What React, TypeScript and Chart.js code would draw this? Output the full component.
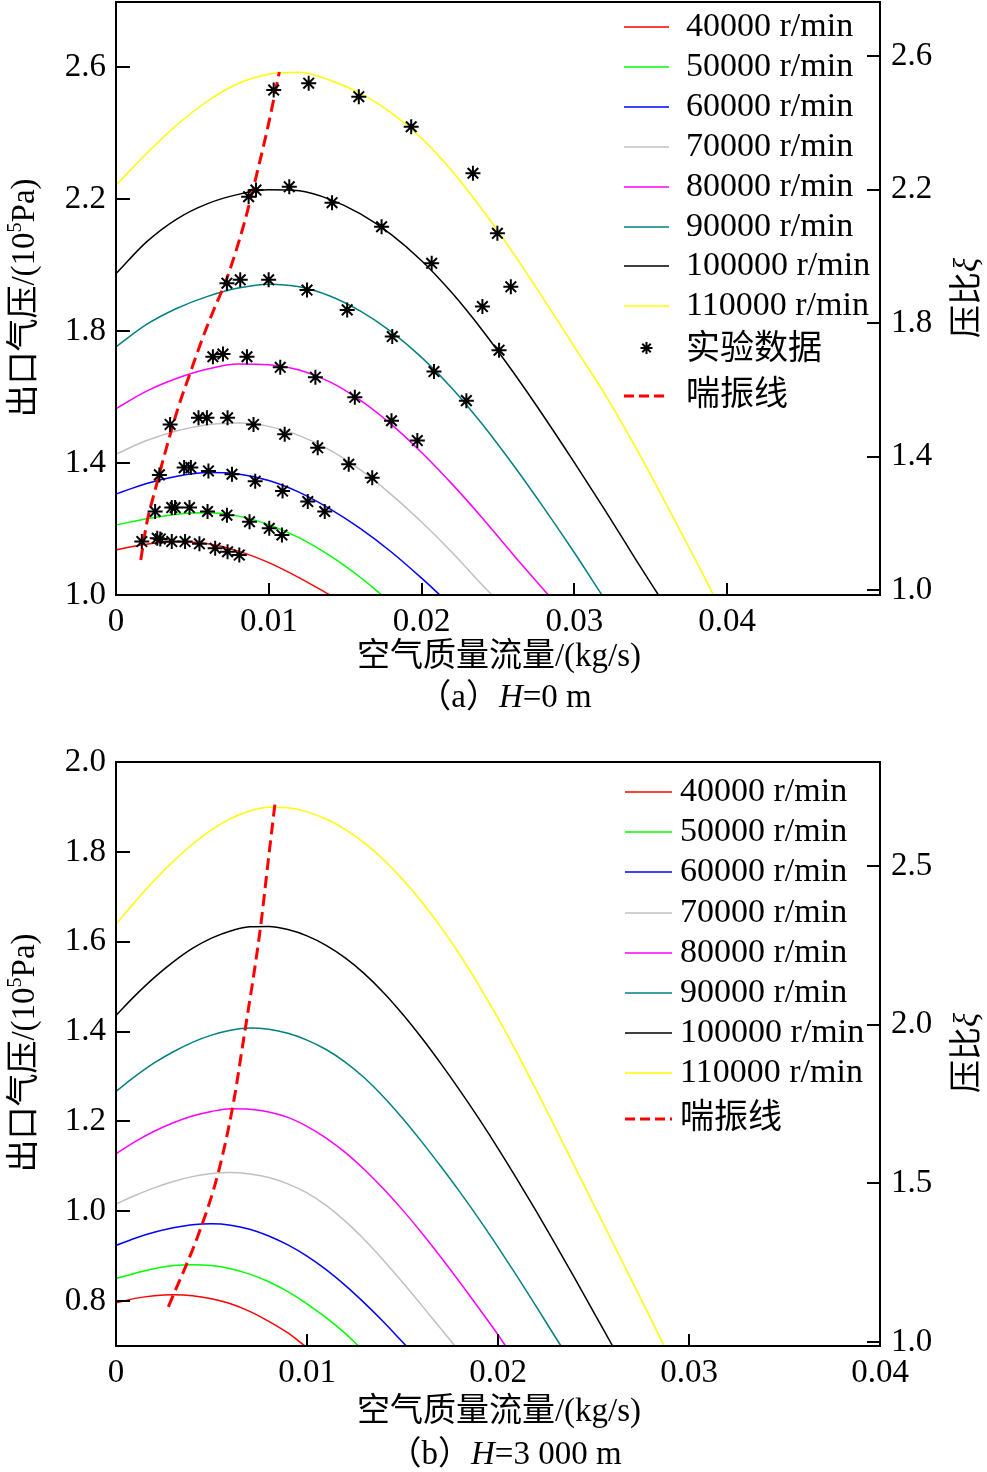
import React, { useEffect, useRef } from 'react';
import { Chart, registerables } from 'chart.js';
Chart.register(...registerables);

const FONT = '"Liberation Serif", "Times New Roman", "Noto Sans CJK SC", serif';
const FS = 33;
const LFS = 34;

type P = [number, number];

const speedLabels = ['40000 r/min', '50000 r/min', '60000 r/min', '70000 r/min', '80000 r/min', '90000 r/min', '100000 r/min', '110000 r/min'];
const speedColors = ['#ff0000', '#00ff00', '#0000ff', '#c0c0c0', '#ff00ff', '#008080', '#000000', '#ffff00'];
const expLabel = '实验数据';
const surgeLabel = '喘振线';

// ---------- (a) H = 0 m ----------
const a40: P[] = [[0, 1.137], [0.002, 1.154], [0.004, 1.161], [0.006, 1.155], [0.008, 1.133], [0.010, 1.098], [0.012, 1.052], [0.014, 1.0]];
const a50: P[] = [[0, 1.212], [0.002, 1.231], [0.004, 1.245], [0.006, 1.249], [0.008, 1.239], [0.010, 1.213], [0.012, 1.173], [0.014, 1.119], [0.016, 1.053], [0.0174, 1.0]];
const a60: P[] = [[0, 1.306], [0.002, 1.338], [0.004, 1.36], [0.006, 1.371], [0.008, 1.367], [0.010, 1.347], [0.012, 1.311], [0.014, 1.261], [0.016, 1.201], [0.018, 1.131], [0.020, 1.051], [0.0212, 1.0]];
const a70: P[] = [[0, 1.427], [0.002, 1.468], [0.004, 1.498], [0.006, 1.516], [0.008, 1.521], [0.010, 1.511], [0.012, 1.483], [0.014, 1.439], [0.016, 1.379], [0.018, 1.305], [0.020, 1.221], [0.022, 1.129], [0.024, 1.029], [0.0246, 1.0]];
const a80: P[] = [[0, 1.565], [0.002, 1.618], [0.004, 1.657], [0.006, 1.685], [0.008, 1.70], [0.010, 1.698], [0.012, 1.682], [0.014, 1.646], [0.016, 1.59], [0.018, 1.518], [0.020, 1.432], [0.022, 1.336], [0.024, 1.232], [0.026, 1.122], [0.0283, 1.0]];
const a90: P[] = [[0, 1.752], [0.002, 1.82], [0.004, 1.869], [0.006, 1.905], [0.008, 1.93], [0.010, 1.942], [0.012, 1.934], [0.014, 1.906], [0.016, 1.86], [0.018, 1.798], [0.020, 1.72], [0.022, 1.626], [0.024, 1.516], [0.026, 1.394], [0.028, 1.264], [0.030, 1.128], [0.0318, 1.0]];
const a100: P[] = [[0, 1.974], [0.002, 2.07], [0.004, 2.14], [0.006, 2.186], [0.008, 2.214], [0.010, 2.228], [0.012, 2.225], [0.014, 2.199], [0.016, 2.155], [0.018, 2.093], [0.020, 2.013], [0.022, 1.915], [0.024, 1.801], [0.026, 1.675], [0.028, 1.541], [0.030, 1.401], [0.032, 1.257], [0.034, 1.109], [0.0355, 1.0]];
const a110: P[] = [[0, 2.242], [0.002, 2.338], [0.004, 2.425], [0.006, 2.497], [0.008, 2.55], [0.010, 2.578], [0.012, 2.584], [0.014, 2.56], [0.016, 2.52], [0.018, 2.462], [0.020, 2.384], [0.022, 2.284], [0.024, 2.166], [0.026, 2.036], [0.028, 1.896], [0.030, 1.752], [0.032, 1.608], [0.034, 1.448], [0.036, 1.276], [0.038, 1.10], [0.0391, 1.0]];

const expA40: P[] = [[0.00169, 1.162], [0.0027, 1.172], [0.0029, 1.17], [0.00365, 1.162], [0.00452, 1.162], [0.00546, 1.155], [0.00649, 1.142], [0.0073, 1.131], [0.00807, 1.121]];
const expA50: P[] = [[0.00256, 1.253], [0.00365, 1.265], [0.00387, 1.265], [0.00481, 1.265], [0.00599, 1.253], [0.00726, 1.242], [0.00874, 1.222], [0.01003, 1.202], [0.01086, 1.182]];
const expA60: P[] = [[0.00284, 1.364], [0.00446, 1.386], [0.0049, 1.386], [0.00605, 1.376], [0.00759, 1.366], [0.00911, 1.345], [0.0109, 1.315], [0.01255, 1.283], [0.01366, 1.253]];
const expA70: P[] = [[0.00354, 1.517], [0.0054, 1.537], [0.00595, 1.537], [0.0073, 1.537], [0.009, 1.517], [0.01104, 1.487], [0.0132, 1.446], [0.01523, 1.396], [0.01677, 1.355]];
const expA80: P[] = [[0.00634, 1.722], [0.007, 1.73], [0.00857, 1.722], [0.01075, 1.69], [0.01305, 1.66], [0.01563, 1.599], [0.01803, 1.528], [0.01972, 1.468]];
const expA90: P[] = [[0.00726, 1.945], [0.00813, 1.955], [0.00999, 1.955], [0.0125, 1.924], [0.01513, 1.864], [0.01808, 1.783], [0.02081, 1.677], [0.02293, 1.589]];
const expA100: P[] = [[0.00868, 2.207], [0.00916, 2.227], [0.01134, 2.237], [0.01414, 2.189], [0.01738, 2.116], [0.02066, 2.005], [0.02398, 1.874], [0.02507, 1.742]];
const expA110: P[] = [[0.01032, 2.53], [0.01261, 2.551], [0.01589, 2.51], [0.01932, 2.419], [0.02336, 2.278], [0.02496, 2.096], [0.02584, 1.934]];

const surgeA: P[] = [[0.00162, 1.106], [0.00201, 1.217], [0.00256, 1.318], [0.00332, 1.449], [0.00409, 1.571], [0.00485, 1.672], [0.00562, 1.773], [0.00636, 1.86], [0.00726, 1.96], [0.00835, 2.12], [0.00933, 2.298], [0.00999, 2.429], [0.01069, 2.585]];

const xTicksA = [0, 0.01, 0.02, 0.03, 0.04];
const yTicksA = [1.0, 1.4, 1.8, 2.2, 2.6];
const y2TicksA = [1.0, 1.4, 1.8, 2.2, 2.6];

// ---------- (b) H = 3000 m ----------
const b40: P[] = [[0, 0.796], [0.001, 0.806], [0.002, 0.812], [0.003, 0.814], [0.004, 0.812], [0.005, 0.805], [0.006, 0.794], [0.007, 0.777], [0.008, 0.755], [0.009, 0.729], [0.0099, 0.70]];
const b50: P[] = [[0, 0.85], [0.001, 0.862], [0.002, 0.872], [0.003, 0.879], [0.004, 0.881], [0.005, 0.879], [0.006, 0.872], [0.007, 0.86], [0.008, 0.843], [0.009, 0.821], [0.010, 0.794], [0.011, 0.763], [0.012, 0.728], [0.0127, 0.70]];
const b60: P[] = [[0, 0.924], [0.001, 0.94], [0.002, 0.953], [0.003, 0.963], [0.004, 0.97], [0.005, 0.972], [0.006, 0.969], [0.007, 0.96], [0.008, 0.945], [0.009, 0.925], [0.010, 0.90], [0.011, 0.87], [0.012, 0.835], [0.013, 0.796], [0.014, 0.754], [0.015, 0.709], [0.0152, 0.70]];
const b70: P[] = [[0, 1.016], [0.001, 1.035], [0.002, 1.052], [0.003, 1.066], [0.004, 1.077], [0.005, 1.084], [0.006, 1.086], [0.007, 1.083], [0.008, 1.075], [0.009, 1.061], [0.010, 1.041], [0.011, 1.013], [0.012, 0.978], [0.013, 0.937], [0.014, 0.891], [0.015, 0.842], [0.016, 0.791], [0.017, 0.739], [0.01775, 0.70]];
const b80: P[] = [[0, 1.128], [0.001, 1.155], [0.002, 1.178], [0.003, 1.197], [0.004, 1.212], [0.005, 1.222], [0.006, 1.228], [0.007, 1.227], [0.008, 1.221], [0.009, 1.209], [0.010, 1.189], [0.011, 1.163], [0.012, 1.131], [0.013, 1.093], [0.014, 1.05], [0.015, 1.003], [0.016, 0.952], [0.017, 0.898], [0.018, 0.842], [0.019, 0.784], [0.020, 0.725], [0.0204, 0.70]];
const b90: P[] = [[0, 1.267], [0.001, 1.30], [0.002, 1.33], [0.003, 1.355], [0.004, 1.376], [0.005, 1.392], [0.006, 1.403], [0.007, 1.408], [0.008, 1.405], [0.009, 1.396], [0.010, 1.381], [0.011, 1.36], [0.012, 1.332], [0.013, 1.297], [0.014, 1.255], [0.015, 1.207], [0.016, 1.155], [0.017, 1.10], [0.018, 1.043], [0.019, 0.983], [0.020, 0.92], [0.021, 0.855], [0.022, 0.788], [0.023, 0.72], [0.0233, 0.70]];
const b100: P[] = [[0, 1.436], [0.001, 1.48], [0.002, 1.52], [0.003, 1.555], [0.004, 1.585], [0.005, 1.608], [0.006, 1.624], [0.007, 1.633], [0.008, 1.634], [0.009, 1.627], [0.010, 1.613], [0.011, 1.592], [0.012, 1.564], [0.013, 1.529], [0.014, 1.487], [0.015, 1.439], [0.016, 1.386], [0.017, 1.329], [0.018, 1.269], [0.019, 1.206], [0.020, 1.14], [0.021, 1.071], [0.022, 1.0], [0.023, 0.927], [0.024, 0.852], [0.025, 0.776], [0.026, 0.70]];
const b110: P[] = [[0, 1.639], [0.001, 1.689], [0.002, 1.736], [0.003, 1.779], [0.004, 1.817], [0.005, 1.849], [0.006, 1.874], [0.007, 1.891], [0.008, 1.899], [0.009, 1.898], [0.010, 1.889], [0.011, 1.873], [0.012, 1.85], [0.013, 1.82], [0.014, 1.783], [0.015, 1.739], [0.016, 1.689], [0.017, 1.633], [0.018, 1.571], [0.019, 1.503], [0.020, 1.43], [0.021, 1.352], [0.022, 1.270], [0.023, 1.186], [0.024, 1.101], [0.025, 1.016], [0.026, 0.931], [0.027, 0.846], [0.028, 0.761], [0.0287, 0.70]];

const surgeB: P[] = [[0.00274, 0.787], [0.0044, 0.958], [0.00536, 1.087], [0.00614, 1.239], [0.00663, 1.369], [0.00754, 1.624], [0.00797, 1.78], [0.00832, 1.906]];

const xTicksB = [0, 0.01, 0.02, 0.03, 0.04];
const yTicksB = [0.8, 1.0, 1.2, 1.4, 1.6, 1.8, 2.0];
const y2TicksB = [1.0, 1.5, 2.0, 2.5];

type LegendRow = { kind: 'line' | 'star' | 'dash'; color: string; label: string; y: number };

type Spec = {
  height: number;
  padTop: number;
  xAxisH: number;
  xMax: number;
  yMin: number; yMax: number;
  y2Min: number; y2Max: number;
  xTicks: number[]; yTicks: number[]; y2Ticks: number[];
  curves: P[][];
  exp: P[] | null;
  surge: P[];
  legendRows: LegendRow[];
  legX0: number; legX1: number; legTX: number;
  titleCY: number;
  xTitleY: number;
  captionY: number;
  capPrefix: string; capSuffix: string;
};

const rowsA: LegendRow[] = [
  ...speedLabels.map((l, i) => ({ kind: 'line' as const, color: speedColors[i], label: l, y: [27, 67, 107, 147, 187, 227, 266, 306][i] })),
  { kind: 'star', color: '#000', label: expLabel, y: 350 },
  { kind: 'dash', color: '#ff0000', label: surgeLabel, y: 396 },
];
const rowsB: LegendRow[] = [
  ...speedLabels.map((l, i) => ({ kind: 'line' as const, color: speedColors[i], label: l, y: [57, 97, 137, 178, 218, 258, 298, 338][i] })),
  { kind: 'dash', color: '#ff0000', label: surgeLabel, y: 384 },
];

const specA: Spec = {
  height: 735, padTop: 2, xAxisH: 140, xMax: 0.05,
  yMin: 1.0, yMax: 2.797, y2Min: 0.985, y2Max: 2.762,
  xTicks: xTicksA, yTicks: yTicksA, y2Ticks: y2TicksA,
  curves: [a40, a50, a60, a70, a80, a90, a100, a110],
  exp: [...expA40, ...expA50, ...expA60, ...expA70, ...expA80, ...expA90, ...expA100, ...expA110],
  surge: surgeA,
  legendRows: rowsA, legX0: 624, legX1: 669, legTX: 686,
  titleCY: 298, xTitleY: 657, captionY: 698,
  capPrefix: '（a）', capSuffix: '=0 m',
};
const specB: Spec = {
  height: 737, padTop: 27, xAxisH: 126, xMax: 0.04,
  yMin: 0.7, yMax: 2.0, y2Min: 0.987, y2Max: 2.828,
  xTicks: xTicksB, yTicks: yTicksB, y2Ticks: y2TicksB,
  curves: [b40, b50, b60, b70, b80, b90, b100, b110],
  exp: null,
  surge: surgeB,
  legendRows: rowsB, legX0: 625, legX1: 672, legTX: 680,
  titleCY: 318, xTitleY: 677, captionY: 720,
  capPrefix: '（b）', capSuffix: '=3 000 m',
};

function drawStar(ctx: CanvasRenderingContext2D, x: number, y: number, r: number) {
  ctx.beginPath();
  ctx.moveTo(x - r, y); ctx.lineTo(x + r, y);
  ctx.moveTo(x, y - r); ctx.lineTo(x, y + r);
  const d = r * Math.SQRT1_2;
  ctx.moveTo(x - d, y - d); ctx.lineTo(x + d, y + d);
  ctx.moveTo(x - d, y + d); ctx.lineTo(x + d, y - d);
  ctx.stroke();
}

function makeDeco(spec: Spec) {
  return {
    id: 'deco',
    afterDraw(chart: any) {
      const ctx: CanvasRenderingContext2D = chart.ctx;
      const { left, right, top, bottom } = chart.chartArea;
      const xs = chart.scales.x, yl = chart.scales.y, yr = chart.scales.y2;
      ctx.save();
      ctx.strokeStyle = '#000';
      ctx.lineWidth = 2;
      ctx.setLineDash([]);
      ctx.strokeRect(left, top, right - left, bottom - top);
      ctx.beginPath();
      spec.xTicks.forEach((v) => { const px = Math.round(xs.getPixelForValue(v)); ctx.moveTo(px, bottom); ctx.lineTo(px, bottom - 12); });
      spec.yTicks.forEach((v) => { const py = Math.round(yl.getPixelForValue(v)); ctx.moveTo(left, py); ctx.lineTo(left + 14, py); });
      spec.y2Ticks.forEach((v) => { const py = Math.round(yr.getPixelForValue(v)); ctx.moveTo(right, py); ctx.lineTo(right - 13, py); });
      ctx.stroke();

      // legend
      ctx.textBaseline = 'middle';
      ctx.textAlign = 'left';
      spec.legendRows.forEach((r) => {
        ctx.save();
        ctx.strokeStyle = r.color;
        if (r.kind === 'line') {
          ctx.lineWidth = 1.5;
          ctx.beginPath(); ctx.moveTo(spec.legX0, r.y); ctx.lineTo(spec.legX1, r.y); ctx.stroke();
        } else if (r.kind === 'dash') {
          ctx.lineWidth = 3;
          ctx.setLineDash([10, 5]);
          ctx.beginPath(); ctx.moveTo(spec.legX0, r.y); ctx.lineTo(spec.legX1, r.y); ctx.stroke();
        } else {
          ctx.lineWidth = 2;
          drawStar(ctx, (spec.legX0 + spec.legX1) / 2, r.y - 2, 6);
        }
        ctx.restore();
        ctx.fillStyle = '#000';
        ctx.font = `${LFS}px ${FONT}`;
        ctx.fillText(r.label, spec.legTX, r.y);
      });

      // left title (rotated)
      ctx.fillStyle = '#000';
      const p1 = '出口气压/(10', sup = '5', p3 = 'Pa)';
      ctx.save();
      ctx.translate(23, spec.titleCY);
      ctx.rotate(-Math.PI / 2);
      ctx.font = `${FS}px ${FONT}`;
      const w1 = ctx.measureText(p1).width, w3 = ctx.measureText(p3).width;
      ctx.font = `20px ${FONT}`;
      const w2 = ctx.measureText(sup).width;
      let x = -(w1 + w2 + w3) / 2;
      ctx.textAlign = 'left';
      ctx.textBaseline = 'alphabetic';
      ctx.font = `${FS}px ${FONT}`;
      ctx.fillText(p1, x, 11); x += w1;
      ctx.font = `20px ${FONT}`;
      ctx.fillText(sup, x, -2); x += w2;
      ctx.font = `${FS}px ${FONT}`;
      ctx.fillText(p3, x, 11);
      ctx.restore();

      // right title
      ctx.save();
      ctx.translate(966, spec.titleCY);
      ctx.rotate(-Math.PI / 2);
      ctx.textBaseline = 'alphabetic';
      ctx.textAlign = 'left';
      ctx.font = `${FS}px ${FONT}`;
      const r1 = '压比';
      const rw1 = ctx.measureText(r1).width;
      ctx.font = `italic ${FS}px ${FONT}`;
      const rw2 = ctx.measureText('ξ').width;
      let rx = -(rw1 + rw2) / 2;
      ctx.font = `${FS}px ${FONT}`;
      ctx.fillText(r1, rx, 11); rx += rw1;
      ctx.font = `italic ${FS}px ${FONT}`;
      ctx.fillText('ξ', rx, 11);
      ctx.restore();

      // x title
      ctx.textAlign = 'center';
      ctx.textBaseline = 'middle';
      ctx.font = `${FS}px ${FONT}`;
      ctx.fillText('空气质量流量/(kg/s)', 499, spec.xTitleY);

      // caption
      ctx.textAlign = 'left';
      ctx.font = `${FS}px ${FONT}`;
      const c1 = ctx.measureText(spec.capPrefix).width;
      const c3 = ctx.measureText(spec.capSuffix).width;
      ctx.font = `italic ${FS}px ${FONT}`;
      const c2 = ctx.measureText('H').width;
      let cx = 505 - (c1 + c2 + c3) / 2;
      ctx.font = `${FS}px ${FONT}`;
      ctx.fillText(spec.capPrefix, cx, spec.captionY); cx += c1;
      ctx.font = `italic ${FS}px ${FONT}`;
      ctx.fillText('H', cx, spec.captionY); cx += c2;
      ctx.font = `${FS}px ${FONT}`;
      ctx.fillText(spec.capSuffix, cx, spec.captionY);
      ctx.restore();
    },
  };
}

function zeroPad(s: any) {
  s.paddingTop = 0; s.paddingBottom = 0; s.paddingLeft = 0; s.paddingRight = 0;
}

function buildConfig(spec: Spec): any {
  const toXY = (arr: P[]) => arr.map(([x, y]) => ({ x, y }));
  const datasets: any[] = spec.curves.map((c, i) => ({
    label: speedLabels[i],
    data: toXY(c),
    showLine: true,
    borderColor: speedColors[i],
    backgroundColor: speedColors[i],
    borderWidth: 1.5,
    pointRadius: 0,
    cubicInterpolationMode: 'monotone',
    order: 3,
    yAxisID: 'y',
  }));
  datasets.push({
    label: surgeLabel,
    data: toXY(spec.surge),
    showLine: true,
    borderColor: '#ff0000',
    borderWidth: 3,
    borderDash: [12, 6],
    pointRadius: 0,
    cubicInterpolationMode: 'monotone',
    order: 2,
    yAxisID: 'y',
  });
  if (spec.exp) {
    datasets.push({
      label: expLabel,
      data: toXY(spec.exp),
      showLine: false,
      pointStyle: 'star',
      pointRadius: 7.5,
      borderColor: '#000',
      backgroundColor: '#000',
      pointBorderWidth: 2,
      order: 1,
      yAxisID: 'y',
    });
  }
  const tickFont = { family: FONT, size: FS };
  return {
    type: 'scatter',
    data: { datasets },
    options: {
      animation: false,
      responsive: false,
      devicePixelRatio: 1,
      layout: { autoPadding: false, padding: { top: spec.padTop, left: 0, right: 0, bottom: 0 } },
      plugins: { legend: { display: false }, tooltip: { enabled: false } },
      scales: {
        x: {
          type: 'linear', position: 'bottom', min: 0, max: spec.xMax,
          grid: { display: false, drawTicks: false }, border: { display: false },
          ticks: {
            font: tickFont, color: '#000', padding: 8, maxRotation: 0, autoSkip: false,
            callback: (v: number) => (v === 0 ? '0' : String(+(+v).toFixed(3))),
          },
          afterBuildTicks: (s: any) => { s.ticks = spec.xTicks.map((v) => ({ value: v })); },
          afterFit: (s: any) => { s.height = spec.xAxisH; zeroPad(s); },
        },
        y: {
          type: 'linear', position: 'left', min: spec.yMin, max: spec.yMax,
          grid: { display: false, drawTicks: false }, border: { display: false },
          ticks: { font: tickFont, color: '#000', padding: 10, autoSkip: false, callback: (v: number) => (+v).toFixed(1) },
          afterBuildTicks: (s: any) => { s.ticks = spec.yTicks.map((v) => ({ value: v })); },
          afterFit: (s: any) => { s.width = 116; zeroPad(s); },
        },
        y2: {
          type: 'linear', position: 'right', min: spec.y2Min, max: spec.y2Max,
          grid: { display: false, drawTicks: false }, border: { display: false },
          ticks: { font: tickFont, color: '#000', padding: 11, autoSkip: false, callback: (v: number) => (+v).toFixed(1) },
          afterBuildTicks: (s: any) => { s.ticks = spec.y2Ticks.map((v) => ({ value: v })); },
          afterFit: (s: any) => { s.width = 107; zeroPad(s); },
        },
      },
    },
    plugins: [makeDeco(spec)],
  };
}

export default function App() {
  const refA = useRef<HTMLCanvasElement>(null);
  const refB = useRef<HTMLCanvasElement>(null);
  useEffect(() => {
    document.body.style.margin = '0';
    const ca = new Chart(refA.current as HTMLCanvasElement, buildConfig(specA));
    const cb = new Chart(refB.current as HTMLCanvasElement, buildConfig(specB));
    return () => { ca.destroy(); cb.destroy(); };
  }, []);
  return (
    <div style={{ width: 987, background: '#fff' }}>
      <canvas ref={refA} width={987} height={specA.height} style={{ display: 'block', width: 987, height: specA.height }} />
      <canvas ref={refB} width={987} height={specB.height} style={{ display: 'block', width: 987, height: specB.height }} />
    </div>
  );
}
